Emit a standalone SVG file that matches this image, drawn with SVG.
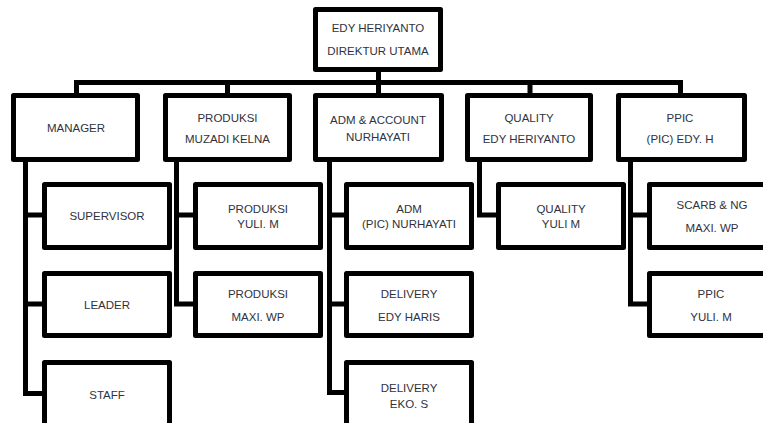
<svg xmlns="http://www.w3.org/2000/svg" width="763" height="423" viewBox="0 0 763 423">
  <style>
    .box { fill: #ffffff; stroke: #000000; stroke-width: 5; stroke-linejoin: round; }
    .wire { fill: none; stroke: #000000; stroke-width: 5; stroke-linejoin: miter; stroke-linecap: square; }
    text { font-family: "Liberation Sans", Arial, sans-serif; font-size: 11.5px; fill: #30323d; text-anchor: middle; }
  </style>
  <rect width="763" height="423" fill="#ffffff"/>

  <!-- connectors -->
  <g id="connectors">
    <path class="wire" d="M378.5,72 V82.5"/>
    <path class="wire" d="M76.5,93 V82.5 H680.5 V93"/>
    <path class="wire" d="M227.5,82.5 V93 M378.5,82.5 V93 M530,82.5 V93"/>
    <!-- manager branch -->
    <path class="wire" d="M25.5,162 V393.5 H42 M25.5,215 H42 M25.5,304 H42"/>
    <!-- produksi branch -->
    <path class="wire" d="M176.5,162 V304 H193 M176.5,215 H193"/>
    <!-- adm branch -->
    <path class="wire" d="M329.5,162 V392.5 H344 M329.5,215 H344 M329.5,304 H344"/>
    <!-- quality branch -->
    <path class="wire" d="M479.5,162 V215 H496"/>
    <!-- ppic branch -->
    <path class="wire" d="M630.5,162 V304 H647 M630.5,215 H647"/>
  </g>

  <!-- top -->
  <g id="direktur">
    <rect class="box" x="315.5" y="9.5" width="125" height="60"/>
    <text x="378" y="32">EDY HERIYANTO</text>
    <text x="378" y="55">DIREKTUR UTAMA</text>
  </g>

  <!-- level 1 -->
  <g id="manager">
    <rect class="box" x="13.5" y="95.5" width="124" height="64"/>
    <text x="76" y="132">MANAGER</text>
  </g>
  <g id="produksi">
    <rect class="box" x="165.5" y="95.5" width="124" height="64"/>
    <text x="227.5" y="122">PRODUKSI</text>
    <text x="227.5" y="143">MUZADI KELNA</text>
  </g>
  <g id="adm-account">
    <rect class="box" x="315.5" y="95.5" width="126" height="64"/>
    <text x="378" y="124">ADM &amp; ACCOUNT</text>
    <text x="378" y="141">NURHAYATI</text>
  </g>
  <g id="quality">
    <rect class="box" x="467.5" y="95.5" width="123" height="64"/>
    <text x="529" y="122">QUALITY</text>
    <text x="529" y="143">EDY HERIYANTO</text>
  </g>
  <g id="ppic">
    <rect class="box" x="618.5" y="95.5" width="126" height="64"/>
    <text x="680" y="122">PPIC</text>
    <text x="680" y="143">(PIC) EDY. H</text>
  </g>

  <!-- level 2: manager -->
  <g id="supervisor">
    <rect class="box" x="44.5" y="184.5" width="125" height="63"/>
    <text x="107" y="220">SUPERVISOR</text>
  </g>
  <g id="leader">
    <rect class="box" x="44.5" y="273.5" width="125" height="62"/>
    <text x="107" y="309">LEADER</text>
  </g>
  <g id="staff">
    <rect class="box" x="44.5" y="362.5" width="125" height="63"/>
    <text x="107" y="399">STAFF</text>
  </g>

  <!-- level 2: produksi -->
  <g id="produksi-yuli">
    <rect class="box" x="195.5" y="184.5" width="125" height="63"/>
    <text x="258" y="213">PRODUKSI</text>
    <text x="258" y="228">YULI. M</text>
  </g>
  <g id="produksi-maxi">
    <rect class="box" x="195.5" y="273.5" width="125" height="62"/>
    <text x="258" y="298">PRODUKSI</text>
    <text x="258" y="321">MAXI. WP</text>
  </g>

  <!-- level 2: adm -->
  <g id="adm">
    <rect class="box" x="346.5" y="184.5" width="125" height="63"/>
    <text x="409" y="213">ADM</text>
    <text x="409" y="228">(PIC) NURHAYATI</text>
  </g>
  <g id="delivery-edy">
    <rect class="box" x="346.5" y="273.5" width="125" height="62"/>
    <text x="409" y="298">DELIVERY</text>
    <text x="409" y="321">EDY HARIS</text>
  </g>
  <g id="delivery-eko">
    <rect class="box" x="346.5" y="362.5" width="125" height="63"/>
    <text x="409" y="392">DELIVERY</text>
    <text x="409" y="408">EKO. S</text>
  </g>

  <!-- level 2: quality -->
  <g id="quality-yuli">
    <rect class="box" x="498.5" y="184.5" width="125" height="63"/>
    <text x="561" y="213">QUALITY</text>
    <text x="561" y="228">YULI M</text>
  </g>

  <!-- level 2: ppic -->
  <g id="scarb-ng">
    <rect class="box" x="649.5" y="184.5" width="125" height="63"/>
    <text x="712" y="209">SCARB &amp; NG</text>
    <text x="712" y="232">MAXI. WP</text>
  </g>
  <g id="ppic-yuli">
    <rect class="box" x="649.5" y="273.5" width="125" height="62"/>
    <text x="711" y="298">PPIC</text>
    <text x="711" y="321">YULI. M</text>
  </g>
</svg>
